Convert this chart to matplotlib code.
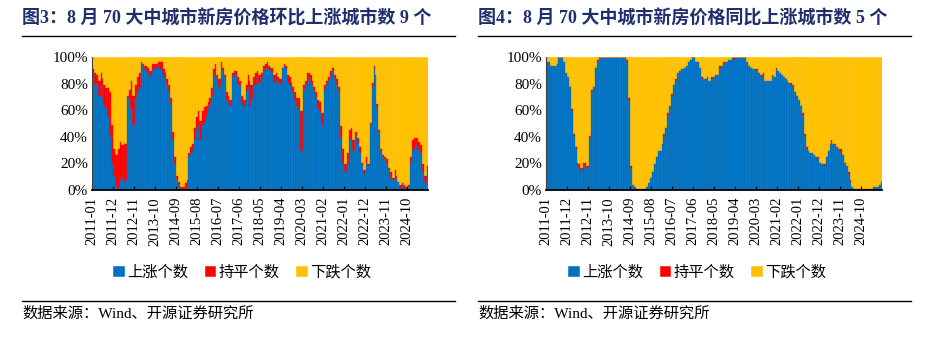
import matplotlib
matplotlib.use('Agg')
import matplotlib.pyplot as plt
from matplotlib.lines import Line2D
import numpy as np
import pandas as pd

plt.rcParams['font.family'] = ['Liberation Serif', 'Noto Sans CJK SC']

# months 2011-01 .. 2025-08
months = pd.period_range('2011-01', '2025-08', freq='M').strftime('%Y-%m').tolist()
total = 70

# 图3 环比: up / flat city counts (down = 70 - up - flat)
mom_up = [60, 56, 57, 50, 56, 49, 45, 43, 39, 29, 14, 8, 2, 1, 6, 7, 4, 6, 49, 49,
          43, 35, 49, 53, 54, 67, 66, 64, 63, 62, 60, 63, 65, 64, 66, 64, 63, 60, 58, 56,
          52, 46, 27, 14, 6, 3, 1, 1, 1, 2, 18, 20, 21, 27, 32, 34, 27, 35, 36, 39,
          43, 46, 50, 60, 63, 60, 55, 65, 63, 60, 48, 46, 45, 60, 62, 60, 56, 56, 46, 45,
          52, 55, 45, 49, 57, 56, 60, 57, 60, 63, 65, 66, 64, 63, 62, 57, 59, 57, 56, 64,
          66, 64, 57, 56, 53, 52, 48, 45, 43, 21, 53, 56, 59, 60, 57, 56, 52, 49, 43, 41,
          35, 53, 56, 58, 60, 63, 63, 59, 56, 52, 28, 15, 10, 14, 28, 27, 21, 28, 29, 25,
          20, 13, 9, 14, 13, 35, 55, 64, 60, 45, 31, 21, 18, 17, 14, 11, 7, 6, 8, 7,
          4, 1, 3, 1, 1, 2, 15, 21, 22, 24, 21, 22, 20, 10, 4, 9]
mom_flat = [4, 6, 4, 8, 6, 10, 11, 11, 15, 23, 21, 14, 17, 21, 20, 17, 22, 19, 1, 4,
            15, 15, 7, 7, 8, 1, 1, 2, 3, 3, 3, 4, 2, 3, 2, 4, 5, 4, 4, 3,
            4, 3, 4, 4, 2, 2, 1, 1, 3, 4, 2, 3, 4, 6, 7, 8, 10, 7, 8, 6,
            4, 3, 4, 4, 4, 1, 4, 3, 2, 1, 4, 4, 3, 2, 1, 3, 4, 2, 4, 3,
            4, 6, 13, 7, 3, 6, 3, 4, 2, 3, 2, 2, 2, 2, 3, 4, 3, 3, 3, 1,
            1, 2, 4, 4, 4, 3, 4, 4, 6, 21, 3, 2, 3, 2, 4, 2, 3, 3, 5, 6,
            6, 3, 2, 2, 3, 2, 2, 2, 3, 3, 6, 7, 4, 6, 4, 6, 6, 3, 2, 3,
            3, 2, 2, 4, 1, 1, 2, 2, 1, 1, 1, 1, 1, 1, 3, 1, 3, 1, 3, 1,
            1, 2, 1, 2, 1, 1, 3, 6, 6, 4, 7, 4, 4, 4, 4, 4]

# 图4 同比
yoy_up = [68, 68, 66, 66, 66, 67, 70, 70, 70, 68, 62, 60, 54, 42, 29, 22, 14, 12, 11, 13,
          13, 12, 28, 52, 55, 65, 68, 70, 70, 70, 70, 70, 70, 70, 70, 70, 70, 70, 70, 70,
          70, 70, 68, 48, 12, 3, 2, 1, 1, 1, 0, 1, 2, 4, 7, 10, 14, 18, 21, 21,
          25, 29, 33, 40, 44, 50, 56, 58, 62, 63, 64, 64, 65, 66, 68, 69, 70, 70, 68, 68,
          65, 59, 59, 59, 60, 58, 59, 60, 61, 61, 65, 66, 67, 68, 68, 69, 69, 70, 69, 70,
          70, 70, 70, 70, 70, 68, 66, 65, 64, 64, 63, 62, 61, 60, 58, 58, 58, 58, 60, 60,
          64, 63, 62, 61, 60, 59, 58, 57, 56, 55, 52, 50, 48, 45, 40, 29, 22, 21, 20, 20,
          19, 18, 17, 15, 14, 13, 18, 21, 24, 26, 25, 24, 23, 22, 20, 19, 15, 13, 9, 5,
          2, 1, 1, 1, 1, 1, 1, 1, 1, 1, 1, 2, 2, 2, 3, 5]
yoy_flat = [0, 0, 0, 0, 0, 0, 0, 0, 0, 0, 0, 0, 1, 1, 1, 1, 1, 2, 1, 2,
            2, 1, 1, 1, 0, 0, 1, 0, 0, 0, 0, 0, 0, 0, 0, 0, 0, 0, 0, 0,
            0, 0, 1, 1, 1, 0, 0, 0, 0, 0, 1, 0, 0, 0, 0, 0, 0, 0, 0, 0,
            0, 1, 0, 1, 1, 1, 0, 1, 0, 0, 0, 0, 0, 0, 0, 0, 0, 0, 0, 0,
            0, 1, 0, 0, 0, 0, 1, 0, 0, 0, 1, 0, 1, 0, 0, 0, 0, 0, 1, 0,
            0, 0, 0, 0, 0, 0, 0, 0, 0, 0, 1, 0, 0, 2, 0, 0, 0, 0, 1, 0,
            1, 0, 0, 0, 0, 0, 0, 0, 1, 1, 0, 0, 0, 0, 1, 1, 1, 0, 0, 0,
            0, 0, 1, 0, 0, 1, 0, 0, 1, 1, 0, 1, 0, 0, 2, 0, 0, 0, 1, 1,
            0, 0, 0, 0, 0, 0, 0, 0, 0, 0, 0, 0, 0, 0, 0, 0]

legend_labels = ['上涨个数', '持平个数', '下跌个数']
colors = ['#0070C0', '#FF0000', '#FFC000']
title_color = '#1F2F6E'

W, H = 927, 344
fig = plt.figure(figsize=(W / 100, H / 100), dpi=100)


def fx(px):
    return px / W


def fy(py):
    return 1 - py / H


def draw_panel(left_px, up, flat, title, legend_cx):
    up = np.array(up)
    flat = np.array(flat)
    down = total - up - flat
    x = np.arange(len(months))
    ax = fig.add_axes([fx(left_px), fy(190), fx(336), 133 / H])
    bottom = np.zeros(len(months))
    handles = []
    for vals, c, lab in zip([up, flat, down], colors, legend_labels):
        pct = vals / total * 100
        h = ax.bar(x, pct, width=1.0, bottom=bottom, align='edge', color=c,
                   edgecolor=c, linewidth=0.4, label=lab)
        handles.append(h)
        bottom += pct
    ax.set_xlim(0, len(months))
    ax.set_ylim(0, 100)
    ax.set_yticks(range(0, 101, 20))
    ax.set_yticklabels(['%d%%' % v for v in range(0, 101, 20)], fontsize=11)
    ax.set_xticks(x[::11])
    ax.set_xticklabels(months[::11], rotation=90, fontsize=10.5)
    ax.tick_params(axis='y', length=0, pad=3)
    ax.tick_params(axis='x', direction='in', length=3, width=0.8, pad=5)
    for s in ['top', 'right']:
        ax.spines[s].set_visible(False)
    ax.spines['bottom'].set_linewidth(1.3)
    ax.spines['bottom'].set_zorder(5)
    ax.spines['left'].set_color('#404040')
    ax.spines['left'].set_linewidth(0.8)

    tleft = left_px - 70 if left_px < 300 else left_px - 68
    fig.text(fx(tleft), fy(19), title, fontsize=13, fontweight='bold',
             color=title_color, va='center', ha='left')
    fig.add_artist(Line2D([fx(tleft), fx(tleft + 433)], [fy(36), fy(36)],
                          color='black', linewidth=1.0))
    fig.add_artist(Line2D([fx(tleft), fx(tleft + 433)], [fy(301), fy(301)],
                          color='black', linewidth=1.0))
    fig.text(fx(tleft), fy(314), '数据来源：Wind、开源证券研究所', fontsize=11,
             va='center', ha='left')
    fig.legend(handles=handles, loc='center', bbox_to_anchor=(fx(legend_cx), fy(272)),
               ncol=3, frameon=False, fontsize=11, handlelength=0.7, handleheight=0.7,
               handletextpad=0.2, columnspacing=1.1)


draw_panel(92, mom_up, mom_flat, '图3：8 月 70 大中城市新房价格环比上涨城市数 9 个', 242)
draw_panel(546, yoy_up, yoy_flat, '图4：8 月 70 大中城市新房价格同比上涨城市数 5 个', 697)

fig.savefig('out.png', dpi=100)
